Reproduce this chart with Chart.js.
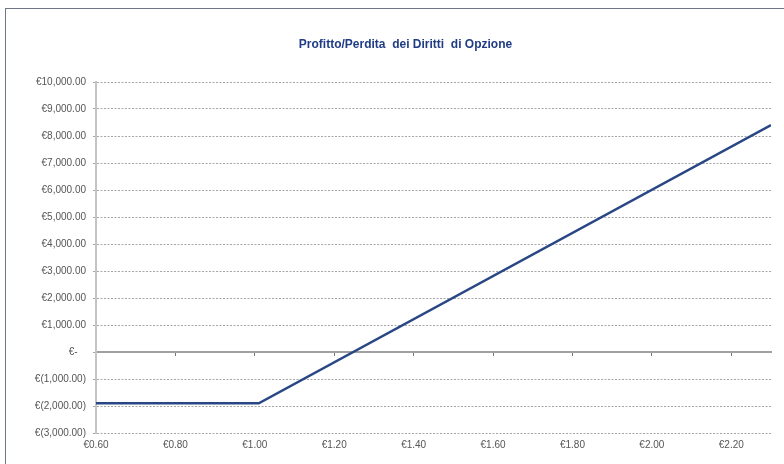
<!DOCTYPE html>
<html>
<head>
<meta charset="utf-8">
<script src="https://cdn.jsdelivr.net/npm/chart.js@4"></script>
<style>
	body { margin: 0; background: #fff; }
	#wrap { position: relative; width: 784px; height: 464px; overflow: hidden; }
	#frame { position: absolute; left: 5px; top: 8px; width: 900px; height: 600px;
		border-left: 1px solid #6f7686; border-top: 1px solid #6f7686; }
	canvas { position: absolute; left: 0; top: 0; }
</style>
</head>
<body>
<div id="wrap">
	<div id="frame"></div>
	<canvas id="chart" width="784" height="464"></canvas>
</div>
<script>
// share price (€) and profit/loss of the rights (€)
const prices = [0.60, 1.01, 2.30];
const pnl = [-1900, -1900, 8400];

const xTicks = [0.6, 0.8, 1.0, 1.2, 1.4, 1.6, 1.8, 2.0, 2.2];
const yMin = -3000;
const yMax = 10000;
const yStep = 1000;

const titleText = 'Profitto/Perdita  dei Diritti  di Opzione';

function euro(v) {
	if (v === 0) return '€-   ';
	const s = Math.abs(v).toLocaleString('en-US', { minimumFractionDigits: 2, maximumFractionDigits: 2 });
	return v < 0 ? '€(' + s + ')' : '€' + s;
}

function setXTicks(scale) {
	scale.ticks = xTicks.map(v => ({ value: v }));
}

// the title sits centred on the outer frame, not on the canvas
const shiftTitle = {
	id: 'shiftTitle',
	afterLayout(chart) {
		if (chart.titleBlock) chart.titleBlock.left = 40;
	}
};

const font = { family: "'Liberation Sans', Arial, sans-serif", size: 10 };

new Chart(document.getElementById('chart'), {
	type: 'line',
	data: {
		datasets: [{
			data: prices.map((p, i) => ({ x: p, y: pnl[i] })),
			borderColor: '#2a4785',
			borderWidth: 2.5,
			pointRadius: 0,
			tension: 0,
			fill: false
		}]
	},
	plugins: [shiftTitle],
	options: {
		responsive: false,
		animation: false,
		layout: { padding: { left: 0, right: 13, top: 0, bottom: 0 } },
		plugins: {
			legend: { display: false },
			tooltip: { enabled: false },
			title: {
				display: true,
				text: titleText,
				color: '#203c86',
				font: { family: "'Liberation Sans', Arial, sans-serif", size: 12, weight: 'bold' },
				padding: { top: 37, bottom: 30.6 }
			}
		},
		scales: {
			x: {
				type: 'linear',
				min: 0.6,
				max: 2.3,
				afterBuildTicks: setXTicks,
				afterFit: s => { s.height = 31; },
				grid: { display: false, drawTicks: false },
				border: { display: false },
				ticks: {
					color: '#555',
					font: font,
					padding: 6,
					maxRotation: 0,
					callback: v => '€' + Number(v).toFixed(2)
				}
			},
			xZero: {
				type: 'linear',
				axis: 'x',
				position: { y: 0 },
				min: 0.6,
				max: 2.3,
				afterBuildTicks: setXTicks,
				grid: { drawOnChartArea: false, drawTicks: true, tickLength: 3, tickColor: '#777', tickWidth: 1 },
				border: { display: true, color: '#a0a0a0', width: 2 },
				ticks: { display: false }
			},
			y: {
				min: yMin,
				max: yMax,
				afterFit: s => { s.width = 96; },
				ticks: {
					stepSize: yStep,
					color: '#555',
					font: font,
					padding: 7,
					callback: v => euro(v)
				},
				grid: { color: '#a6a6a6', lineWidth: 1, tickLength: 3, tickColor: '#a6a6a6' },
				border: { display: true, color: '#c4c4c4', width: 2, dash: [2, 1.5] }
			}
		}
	}
});
</script>
</body>
</html>
